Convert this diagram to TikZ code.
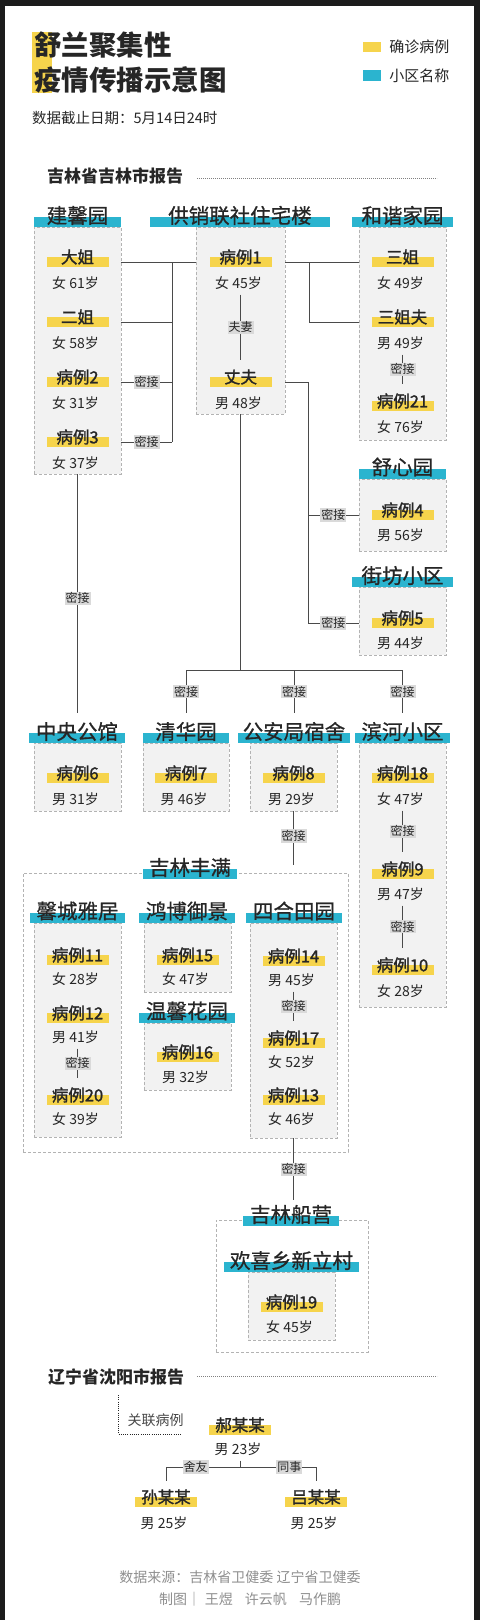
\documentclass[tikz,border=0pt]{standalone}
\usepackage{fontspec}
\setmainfont{Noto Sans CJK SC}
\newfontfamily\namefont{Noto Sans CJK SC}[FakeBold=1.6]
\newfontfamily\placefont{Noto Sans CJK SC}[FakeBold=0.8]
\usetikzlibrary{positioning}

\definecolor{ink}{HTML}{262626}
\definecolor{cyellow}{HTML}{F6D44C}
\definecolor{cblue}{HTML}{2BB4CF}
\definecolor{boxfill}{HTML}{F2F2F2}
\definecolor{boxline}{HTML}{B3B3B3}
\definecolor{linegray}{HTML}{4A4A4A}
\definecolor{taggray}{HTML}{DADADA}
\definecolor{footgray}{HTML}{8E8E8E}
\definecolor{framegray}{HTML}{1C1C1C}

\newcommand{\setfs}[1]{\fontsize{#1}{#1}\selectfont}

\tikzset{
  link/.style={draw=linegray, line width=0.8pt},
  block/.style={draw=boxline, dash pattern=on 3pt off 2pt, fill=boxfill, inner sep=0pt, anchor=north},
  group/.style={draw=boxline, dash pattern=on 3pt off 2pt, line width=0.6pt, inner sep=0pt, anchor=north},
  estate/.style={fill=cblue, minimum width=96pt, minimum height=10pt, inner sep=0pt,
    label={[font={\placefont\setfs{20.5}}, text=ink, inner sep=0pt, yshift=6.5pt]center:#1}},
  patient/.style={fill=cyellow, minimum width=62pt, minimum height=10pt, inner sep=0pt,
    label={[font={\namefont\setfs{16.5}}, text=ink, inner sep=0pt, yshift=5pt]center:#1}},
  info/.style={font=\setfs{14}, text=ink, inner sep=0pt},
  tag/.style={fill=taggray, font=\setfs{12}, text=ink, inner xsep=1pt, inner ysep=1pt},
  heading/.style={anchor=west, font={\setfs{17}\bfseries}, text=ink, inner sep=0pt},
  rule/.style={draw=gray, line width=0.6pt, dash pattern=on 0.8pt off 1.2pt},
}

\begin{document}
\begin{tikzpicture}[x=1pt, y=-1pt]
\useasboundingbox (0,0) rectangle (480,1620);
% frame
\fill[framegray] (0,0) rectangle (480,6);
\fill[framegray] (0,0) rectangle (5,1620);
\fill[framegray] (474,0) rectangle (480,1620);

% title and legend
\fill[cyellow] (32,32) rectangle (52,93);
\node[anchor=west, font={\setfs{27.5}\bfseries}, text=ink, inner sep=0pt] (title1) at (34,44.5) {舒兰聚集性};
\node[anchor=west, font={\setfs{27.5}\bfseries}, text=ink, inner sep=0pt] (title2) at (34,79.5) {疫情传播示意图};
\node[fill=cyellow, minimum width=18pt, minimum height=10pt, inner sep=0pt] (keycase) at (372,47) {};
\node[right=8pt of keycase, font=\setfs{15}, text=ink, inner sep=0pt] (keycase-t) {确诊病例};
\node[fill=cblue, minimum width=18pt, minimum height=11pt, inner sep=0pt] (keyestate) at (372,75.5) {};
\node[right=8pt of keyestate, font=\setfs{15}, text=ink, inner sep=0pt] (keyestate-t) {小区名称};
\node[anchor=west, font=\setfs{14.5}, text=ink, inner sep=0pt] (date) at (32,118) {数据截止日期：5月14日24时};

% Jilin report
\node[heading] (jlhead) at (47,176) {吉林省吉林市报告};
\draw[rule] (197,178) -- (437,178);

% blocks
\node[block, minimum width=87pt, minimum height=247pt] (jx) at (77.5,227) {};
\node[block, minimum width=89pt, minimum height=187pt] (gx) at (240.5,227) {};
\node[block, minimum width=87pt, minimum height=213pt] (hx) at (402.5,227) {};
\node[block, minimum width=87pt, minimum height=72pt] (sx) at (402.5,479) {};
\node[block, minimum width=87pt, minimum height=68pt] (jf) at (402.5,587) {};
\node[block, minimum width=87pt, minimum height=68pt] (zy) at (77.5,743) {};
\node[block, minimum width=86pt, minimum height=68pt] (qh) at (186,743) {};
\node[block, minimum width=87pt, minimum height=68pt] (ga) at (293.5,743) {};
\node[block, minimum width=87pt, minimum height=264pt] (bh) at (402.5,743) {};
\node[group, minimum width=325pt, minimum height=279pt] (jlfm) at (185.5,873) {};
\node[block, minimum width=87pt, minimum height=214pt] (xc) at (77.5,923) {};
\node[block, minimum width=87pt, minimum height=69pt] (hb) at (187.5,923) {};
\node[block, minimum width=87pt, minimum height=67pt] (wx) at (187.5,1023) {};
\node[block, minimum width=87pt, minimum height=215pt] (sh) at (293.5,923) {};
\node[group, minimum width=152pt, minimum height=132pt] (jlcy) at (292,1220) {};
\node[block, minimum width=87pt, minimum height=68pt] (xl) at (291.5,1272) {};

% estate names
\node[estate={建馨园}, minimum width=87pt] (jxt) at (77.5,222) {};
\node[estate={供销联社住宅楼}, minimum width=180pt] (gxt) at (240,222) {};
\node[estate={和谐家园}, minimum width=101pt] (hxt) at (402.5,222) {};
\node[estate={舒心园}, minimum width=87pt] (sxt) at (402.5,473.5) {};
\node[estate={街坊小区}, minimum width=101pt] (jft) at (402.5,582) {};
\node[estate={中央公馆}] (zyt) at (77,738) {};
\node[estate={清华园}, minimum width=86pt] (qht) at (186,738) {};
\node[estate={公安局宿舍}, minimum width=112pt] (gat) at (294,738) {};
\node[estate={滨河小区}, minimum width=95pt] (bht) at (402.5,738) {};
\node[estate={吉林丰满}, minimum width=94pt] (jlfmt) at (190,874) {};
\node[estate={馨城雅居}, minimum width=95pt] (xct) at (77.5,917.5) {};
\node[estate={鸿博御景}] (hbt) at (187,917.5) {};
\node[estate={温馨花园}] (wxt) at (187,1017.5) {};
\node[estate={四合田园}] (sht) at (294,917.5) {};
\node[estate={吉林船营}] (jlcyt) at (291,1221) {};
\node[estate={欢喜乡新立村}, minimum width=135pt] (xlt) at (291.5,1267) {};

% cases
\node[patient={大姐}] (dajie) at (77.5,262) {};
\node[info] (dajie-a) at (75.5,283) {女 61岁};
\node[patient={二姐}] (erjie) at (77.5,322) {};
\node[info] (erjie-a) at (75.5,343) {女 58岁};
\node[patient={病例2}] (case2) at (77.5,382) {};
\node[info] (case2-a) at (75.5,403) {女 31岁};
\node[patient={病例3}] (case3) at (77.5,442) {};
\node[info] (case3-a) at (75.5,463) {女 37岁};

\node[patient={病例1}] (case1) at (240.5,262) {};
\node[info] (case1-a) at (238.5,283) {女 45岁};
\node[patient={丈夫}] (zhangfu) at (240.5,382) {};
\node[info] (zhangfu-a) at (238.5,403) {男 48岁};

\node[patient={三姐}] (sanjie) at (402.5,262) {};
\node[info] (sanjie-a) at (400.5,283) {女 49岁};
\node[patient={三姐夫}] (sanjiefu) at (402.5,322) {};
\node[info] (sanjiefu-a) at (400.5,343) {男 49岁};
\node[patient={病例21}] (case21) at (402.5,406) {};
\node[info] (case21-a) at (400.5,427) {女 76岁};

\node[patient={病例4}] (case4) at (402.5,515) {};
\node[info] (case4-a) at (400.5,535) {男 56岁};
\node[patient={病例5}] (case5) at (402.5,623) {};
\node[info] (case5-a) at (400.5,643) {男 44岁};

\node[patient={病例6}] (case6) at (77.5,778) {};
\node[info] (case6-a) at (75.5,799) {男 31岁};
\node[patient={病例7}] (case7) at (186,778) {};
\node[info] (case7-a) at (184,799) {男 46岁};
\node[patient={病例8}] (case8) at (293.5,778) {};
\node[info] (case8-a) at (291.5,799) {男 29岁};
\node[patient={病例18}] (case18) at (402.5,778) {};
\node[info] (case18-a) at (400.5,799) {女 47岁};
\node[patient={病例9}] (case9) at (402.5,874) {};
\node[info] (case9-a) at (400.5,894) {男 47岁};
\node[patient={病例10}] (case10) at (402.5,970) {};
\node[info] (case10-a) at (400.5,991) {女 28岁};

\node[patient={病例11}] (case11) at (77.5,960) {};
\node[info] (case11-a) at (75.5,979) {女 28岁};
\node[patient={病例12}] (case12) at (77.5,1018) {};
\node[info] (case12-a) at (75.5,1037) {男 41岁};
\node[patient={病例20}] (case20) at (77.5,1100) {};
\node[info] (case20-a) at (75.5,1119) {女 39岁};
\node[patient={病例15}] (case15) at (187.5,960) {};
\node[info] (case15-a) at (185.5,979) {女 47岁};
\node[patient={病例16}] (case16) at (187.5,1057) {};
\node[info] (case16-a) at (185.5,1077) {男 32岁};
\node[patient={病例14}] (case14) at (293.5,961) {};
\node[info] (case14-a) at (291.5,980) {男 45岁};
\node[patient={病例17}] (case17) at (293.5,1043) {};
\node[info] (case17-a) at (291.5,1062) {女 52岁};
\node[patient={病例13}] (case13) at (293.5,1100) {};
\node[info] (case13-a) at (291.5,1119) {女 46岁};

\node[patient={病例19}] (case19) at (291.5,1307) {};
\node[info] (case19-a) at (289.5,1327) {女 45岁};

% links
\coordinate (lspine) at (172,262);
\coordinate (rspine) at (309,262);
\coordinate (hspine) at (308,382);
\coordinate (fan) at (240.5,670);
\draw[link] (jx.east |- dajie) -- (gx.west |- dajie);
\draw[link] (lspine) -- (lspine |- case3);
\draw[link] (jx.east |- erjie) -- (lspine |- erjie);
\draw[link] (jx.east |- case2) -- node[tag]{密接} (lspine |- case2);
\draw[link] (jx.east |- case3) -- node[tag]{密接} (lspine |- case3);
\draw[link] (gx.east |- case1) -- (hx.west |- case1);
\draw[link] (rspine) -- (rspine |- sanjiefu) -- (hx.west |- sanjiefu);
\draw[link] ([yshift=-5pt]case1 |- case1-a.south) -- node[tag]{夫妻} ([yshift=22pt]zhangfu.center);
\draw[link] ([yshift=-5pt]sanjiefu |- sanjiefu-a.south) -- node[tag]{密接} ([yshift=22pt]case21.center);
\draw[link] (gx.east |- zhangfu) -- (hspine) -- (hspine |- case5);
\draw[link] (hspine |- case4) -- node[tag]{密接} (sx.west |- case4);
\draw[link] (hspine |- case5) -- node[tag]{密接} (jf.west |- case5);
\draw[link] (jx.south) -- node[tag, pos=0.52]{密接} ([yshift=20pt]zyt.north -| jx.south);
\draw[link] (gx.south) -- (fan);
\draw[link] (qht.north |- fan) -- (bht.north |- fan);
\draw[link] (qht.north |- fan) -- node[tag]{密接} ([yshift=20pt]qht.north);
\draw[link] (gat.north |- fan) -- node[tag]{密接} ([yshift=20pt]gat.north);
\draw[link] (bht.north |- fan) -- node[tag]{密接} ([yshift=20pt]bht.north);
\draw[link] ([yshift=-5pt]case18 |- case18-a.south) -- node[tag]{密接} ([yshift=22pt]case9.center);
\draw[link] ([yshift=-5pt]case9 |- case9-a.south) -- node[tag]{密接} ([yshift=22pt]case10.center);
\draw[link, shorten >=8pt] (ga.south) -- node[tag, pos=0.4]{密接} (ga.south |- jlfm.north);
\draw[link] ([yshift=-5pt]case12 |- case12-a.south) -- node[tag]{密接} ([yshift=22pt]case20.center);
\draw[link] ([yshift=-5pt]case14 |- case14-a.south) -- node[tag]{密接} ([yshift=22pt]case17.center);
\draw[link, shorten >=16pt] (sh.south) -- node[tag, pos=0.4]{密接} (sh.south |- jlcyt.north);

% Liaoning report
\node[heading] (lnhead) at (48,1377) {辽宁省沈阳市报告};
\draw[rule] (197,1376) -- (437,1376);
\draw[draw=ink, line width=0.6pt, dash pattern=on 1pt off 1.2pt] (118,1395) -- (118,1434) -- (182,1434);
\node[font=\setfs{14}, text=ink!85, inner sep=0pt] (related) at (155.5,1420) {关联病例};
\node[patient={郝某某}] (hao) at (240,1430) {};
\node[info] (hao-a) at (238,1449) {男 23岁};
\node[patient={孙某某}] (sun) at (166,1502) {};
\node[info] (sun-a) at (164,1523) {男 25岁};
\node[patient={吕某某}] (lv) at (316,1502) {};
\node[info] (lv-a) at (314,1523) {男 25岁};
\coordinate (lnfork) at (240,1467);
\draw[link] ([yshift=-5pt]hao |- hao-a.south) -- (lnfork);
\draw[link] (lnfork) -- node[tag, pos=0.6]{舍友} (lnfork -| sun) -- ([yshift=21pt]sun.center);
\draw[link] (lnfork) -- node[tag, pos=0.65]{同事} (lnfork -| lv) -- ([yshift=21pt]lv.center);

% sources
\node[font=\setfs{14}, text=footgray, inner sep=0pt] (source) at (240,1577) {数据来源：吉林省卫健委 辽宁省卫健委};
\node[font=\setfs{14}, text=footgray, inner sep=0pt] (credit) at (250,1599) {制图｜\hspace{4pt}王煜\hspace{12pt}许云帆\hspace{12pt}马作鹏};
\end{tikzpicture}
\end{document}
